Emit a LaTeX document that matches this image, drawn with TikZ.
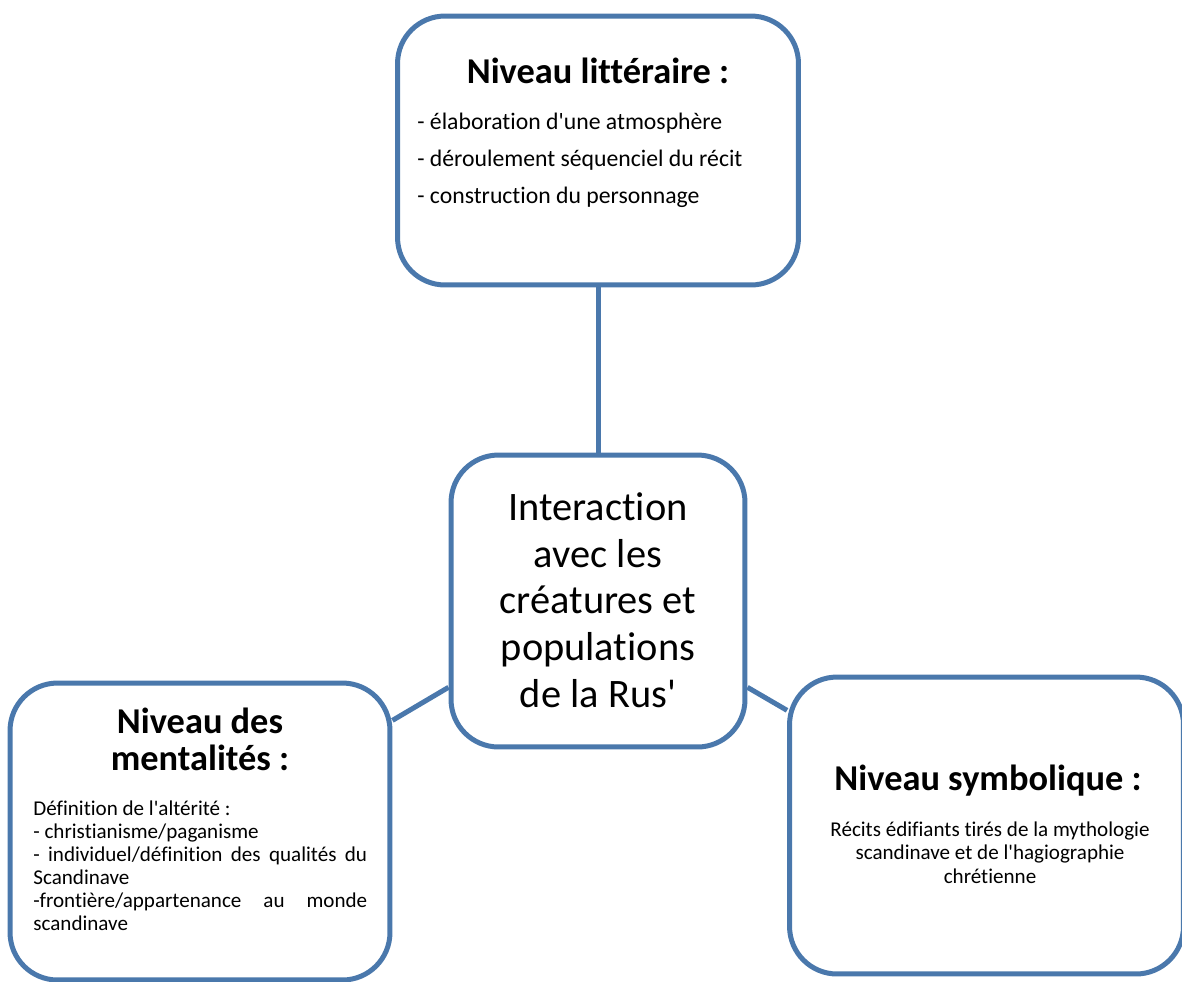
\documentclass[tikz,border=0pt]{standalone}
\usepackage{fontspec}
\setmainfont{Carlito}[Ligatures={TeXOff,NoCommon}]
\usetikzlibrary{positioning}
\definecolor{boxblue}{RGB}{74,120,172}

\begin{document}
\begin{tikzpicture}[x=0.02cm,y=-0.02cm,
	box/.style={draw=boxblue,fill=white,line width=0.1cm,rounded corners=0.95cm},
	title/.style={font=\fontsize{20.7}{21}\selectfont\bfseries,align=center,inner sep=0pt},
	body/.style={font=\fontsize{12}{13.2}\selectfont,inner sep=0pt},
	link/.style={draw=boxblue,line width=0.1cm}]
		
		\useasboundingbox (0,0) rectangle (1182,981);
		
		% boxes
		\node[box,minimum width=8.02cm,minimum height=5.38cm] (lit) at (598,150.5) {};
		\node[box,minimum width=5.88cm,minimum height=5.84cm] (inter) at (598,601) {};
		\node[box,minimum width=7.6cm,minimum height=5.94cm] (ment) at (200,831.5) {};
		\node[box,minimum width=7.88cm,minimum height=5.94cm] (symb) at (986.5,825.5) {};
		
		% links
		\draw[link] (lit.south) -- (inter.north);
		\draw[link] (inter.210.6) -- (ment.30);
		\draw[link] (inter.-30) -- (symb.150.3);
		
		% texts (base = last line)
		\node[title,anchor=base] (littitle) at (598,83) {Niveau littéraire :};
		\node[body,font=\fontsize{13.5}{20.8}\selectfont,align=left,anchor=base west] (littext) at (417,203)
			{- élaboration d'une atmosphère\\- déroulement séquenciel du récit\\- construction du personnage};
		
		\node[inner sep=0pt,font=\fontsize{23}{26.5}\selectfont,align=center,anchor=base] (intertext) at (598,707)
			{Interaction\\avec les\\créatures et\\populations\\de la Rus'};
		
		\node[title,anchor=base] (menttitle) at (200,770) {Niveau des\\mentalités :};
		\node[body,text width=190pt,align=justify,anchor=base west] (menttext) at (33,815)
			{Définition de l'altérité :\\- christianisme/paganisme\\- individuel/définition des qualités du\linebreak Scandinave\\-frontière/appartenance au monde\linebreak scandinave};
		
		\node[title,anchor=base] (symbtitle) at (988,790) {Niveau symbolique :};
		\node[body,align=center,anchor=base] (symbtext) at (990,883)
			{Récits édifiants tirés de la mythologie\\scandinave et de l'hagiographie\\chrétienne};
		
\end{tikzpicture}
\end{document}
